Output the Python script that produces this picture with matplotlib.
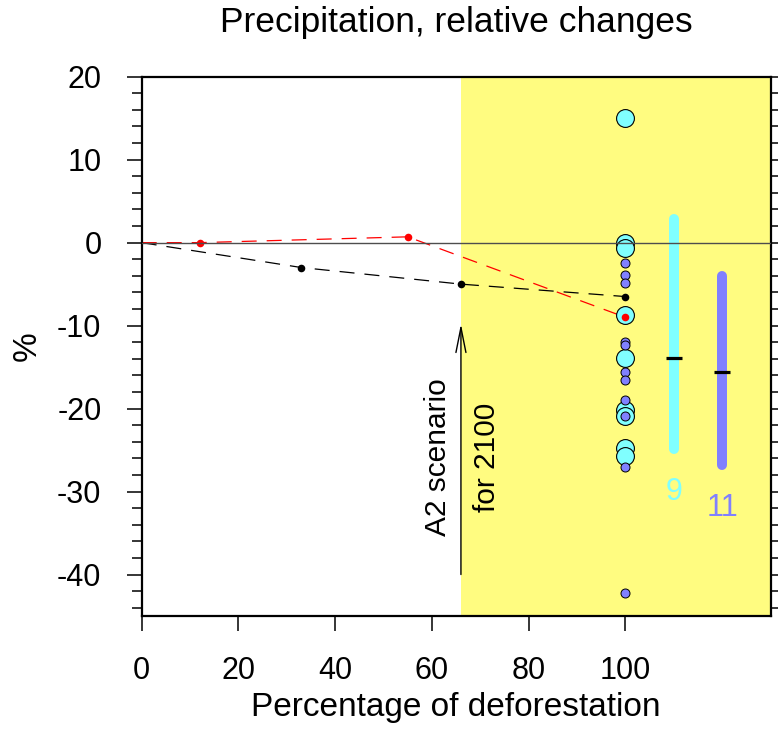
import matplotlib
matplotlib.use("Agg")
import numpy as np
import matplotlib.pyplot as plt
from matplotlib.ticker import MultipleLocator, FixedLocator, NullLocator

plt.rcParams['font.family'] = ['Liberation Sans', 'DejaVu Sans']
plt.rcParams['axes.unicode_minus'] = False

# Precipitation change (%) against fraction of deforested area (%)
defor_black = [0, 33, 66, 100]
precip_black = [0.0, -3.0, -5.0, -6.5]
defor_red = [0, 12, 55, 100]
precip_red = [0.0, 0.0, 0.7, -9.0]

# Total-deforestation experiments, two groups of models
full_defor_x = 100
group_cyan = [15.0, 0.0, -0.7, -8.7, -13.9, -20.2, -20.9, -24.7, -25.7]
group_blue = [-2.4, -3.9, -4.9, -12.0, -12.3, -15.6, -16.5, -19.0, -20.9, -27.0, -42.2]

# Spread bars for the two groups
bar_x = [110, 120]
bar_low = [-24.9, -26.8]
bar_high = [2.8, -4.0]
count_label_y = [-30.0, -32.0]

# A2 scenario marker
scenario_start = 66
scenario_arrow = [-40.0, -9.8]

x_ticks = [0, 20, 40, 60, 80, 100]

CYAN = '#80FFFF'
BLUE = '#8080FF'
YELLOW = '#FFFC80'

fig = plt.figure(figsize=(7.78, 7.31), dpi=100)
ax = fig.add_axes([0.18213, 0.15732, 0.80823, 0.73776])
ax.set_xlim(0, 130)
ax.set_ylim(-45, 20)

ax.axvspan(scenario_start, 130, color=YELLOW, lw=0, zorder=0)
ax.axhline(0, color='#4d4d4d', lw=1.0, zorder=8)

ax.plot(defor_black, precip_black, color='black', lw=0.9, dashes=(12, 8), zorder=2)
ax.plot(defor_red, precip_red, color='red', lw=0.9, dashes=(12, 8), zorder=2)

ax.scatter([full_defor_x] * len(group_cyan), group_cyan, s=165, facecolor=CYAN,
           edgecolor='black', linewidth=0.8, zorder=3)
ax.scatter([full_defor_x] * len(group_blue), group_blue, s=42, facecolor=BLUE,
           edgecolor='black', linewidth=0.7, zorder=4)

ax.scatter(defor_black[1:], precip_black[1:], s=30, color='black', lw=0, zorder=5)
ax.scatter(defor_red[1:], precip_red[1:], s=30, color='red', lw=0, zorder=5)

groups = [group_cyan, group_blue]
colors = [CYAN, BLUE]
for x, lo, hi, g, c, ly in zip(bar_x, bar_low, bar_high, groups, colors, count_label_y):
    ax.plot([x, x], [lo, hi], color=c, lw=7.2, solid_capstyle='round', zorder=3)
    med = np.median(g)
    ax.plot([x - 1.7, x + 1.7], [med, med], color='black', lw=2.3,
            solid_capstyle='butt', zorder=4)
    ax.text(x, ly, str(len(g)), color=c, ha='center', va='center', fontsize=22)

ax.annotate('', xy=(scenario_start, scenario_arrow[1]),
            xytext=(scenario_start, scenario_arrow[0]),
            arrowprops=dict(arrowstyle='->,head_length=1.0,head_width=0.2',
                            mutation_scale=18, lw=1.0, color='black',
                            shrinkA=0, shrinkB=0), zorder=6)
ax.text(61.3, -25.9, 'A2 scenario', rotation=90, ha='center', va='center', fontsize=21.5)
ax.text(71.3, -25.9, 'for 2100', rotation=90, ha='center', va='center', fontsize=21.5)

ax.xaxis.set_major_locator(FixedLocator(x_ticks))
ax.xaxis.set_minor_locator(NullLocator())
ax.yaxis.set_major_locator(MultipleLocator(10))
ax.yaxis.set_minor_locator(MultipleLocator(2))
ax.tick_params(axis='both', which='major', direction='out', length=11, width=1.1,
               labelsize=22, pad=18)
ax.tick_params(axis='y', which='minor', direction='out', length=7, width=1.1)
ax.tick_params(axis='y', which='both', left=True, right=True, labelright=False)
ax.tick_params(axis='x', which='both', top=False)
for sp in ax.spines.values():
    sp.set_linewidth(1.6)

ax.set_xlabel('Percentage of deforestation', fontsize=24)
ax.xaxis.set_label_coords(0.5, -0.1854)
ax.xaxis.label.set_verticalalignment('baseline')
ax.set_ylabel('%', fontsize=24)
ax.yaxis.set_label_coords(-0.1824, 0.5)
ax.yaxis.label.set_verticalalignment('center')

ax.set_title('Precipitation, relative changes', fontsize=25.5, y=1.0829, pad=0,
             va='baseline')

fig.savefig('out.png', dpi=100)
